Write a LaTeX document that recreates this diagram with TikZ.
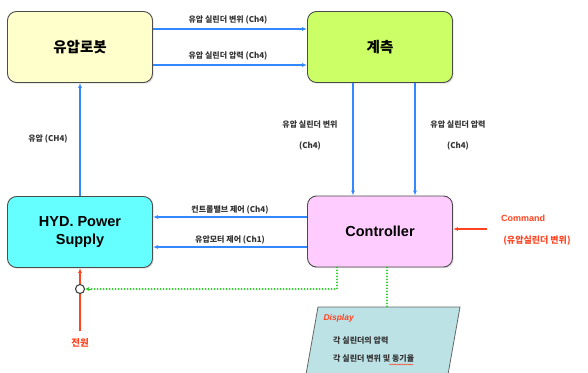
\documentclass[tikz,border=0pt]{standalone}
\usepackage{fontspec}
\setmainfont{Liberation Sans}
\newfontfamily\kr{Noto Sans CJK KR}
\usetikzlibrary{arrows.meta,shadows,decorations.pathmorphing}

\definecolor{linkblue}{HTML}{3388FF}
\definecolor{powerred}{HTML}{FF4422}
\definecolor{sigreen}{HTML}{22CC22}
\definecolor{robotfill}{HTML}{FFFFCC}
\definecolor{measfill}{HTML}{CCFF66}
\definecolor{hydfill}{HTML}{66FFFF}
\definecolor{ctrlfill}{HTML}{FFCCFF}
\definecolor{dispfill}{HTML}{BCE2E6}

\tikzset{
  block/.style={draw=black!70, line width=0.9pt, rounded corners=9pt,
    minimum width=145pt, minimum height=71pt, align=center,
    font=\fontsize{14.5}{17.5}\selectfont\bfseries,
    drop shadow={opacity=0.25, shadow xshift=1.2pt, shadow yshift=-1.2pt}},
  link/.style={draw=linkblue, line width=1.3pt, -{Latex[length=5pt,width=4pt]}},
  lbl/.style={font=\kr\fontsize{8}{9.5}\selectfont\bfseries, text=black!80, inner sep=1pt},
  feed/.style={draw=powerred, line width=1.1pt},
  sig/.style={draw=sigreen, line width=2pt, line cap=round, dash pattern=on 0pt off 3pt},
}

\begin{document}
\begin{tikzpicture}[x=1pt, y=-1pt]
\clip (0,0) rectangle (588,372);
\fill[white] (0,0) rectangle (588,372);

% main blocks
\node[block, fill=robotfill] (robot) at (80,47) {\kr 유압로봇};
\node[block, fill=measfill]  (meas)  at (380,47) {\kr 계측};
\node[block, fill=hydfill]   (hyd)   at (80,232) {HYD. Power\\Supply};
\node[block, fill=ctrlfill]  (ctrl)  at (380,231.5) {Controller};

% robot -> measurement
\draw[link] (robot.east |- 0,29) -- (meas.west |- 0,29);
\draw[link] (robot.east |- 0,65) -- (meas.west |- 0,65);
\node[lbl] (l1) at (228,20) {유압 실린더 변위 (Ch4)};
\node[lbl] (l2) at (228,56) {유압 실린더 압력 (Ch4)};

% measurement -> controller
\draw[link] (meas.south -| 353,0) -- (ctrl.north -| 353,0);
\draw[link] (meas.south -| 415,0) -- (ctrl.north -| 415,0);
\node[lbl] (l3) at (310,125) {유압 실린더 변위};
\node[lbl] (l4) at (310,146) {(Ch4)};
\node[lbl] (l5) at (458,125) {유압 실린더 압력};
\node[lbl] (l6) at (458,146) {(Ch4)};

% controller -> power supply
\draw[link] (ctrl.west |- 0,217) -- (hyd.east |- 0,217);
\draw[link] (ctrl.west |- 0,247) -- (hyd.east |- 0,247);
\node[lbl] (l7) at (230,210) {컨트롤밸브 제어 (Ch4)};
\node[lbl] (l8) at (230,240) {유압모터 제어 (Ch1)};

% power supply -> robot
\draw[link] (hyd.north) -- (robot.south);
\node[lbl] (l9) at (48,139) {유압 (CH4)};

% command input
\coordinate (cmd) at (487,229);
\draw[feed, -{Latex[length=5pt,width=4pt]}] (cmd) -- (ctrl.east |- cmd);
\node[font=\fontsize{9}{11}\selectfont\bfseries, text=powerred] (c1) at (523,218) {Command};
\node[font=\kr\fontsize{9}{11}\selectfont\bfseries, text=powerred] (c2) at (537,241) {(유압실린더 변위)};

% power switch
\node[draw=black!75, line width=1.1pt, fill=white, circle, minimum size=9pt, inner sep=0pt] (sw) at (80,289) {};
\node[font=\kr\fontsize{9.5}{11}\selectfont\bfseries, text=powerred] (pw) at (80,343) {전원};
\coordinate (pwtop) at (80,331);
\draw[feed] (pwtop) -- (sw.south);
\draw[feed, -{Latex[length=5pt,width=4pt]}] (sw.north) -- (hyd.south);

% display panel
\path[fill=dispfill, draw=black!60, line width=0.8pt]
  (318,307) -- (460,307) -- (447,380) -- (305,380) -- cycle;
\node[anchor=west, font=\fontsize{8.5}{10}\selectfont\bfseries\itshape, text=powerred] (dt) at (320,318) {Display};
\node[anchor=west, lbl] (d1) at (332,341) {각 실린더의 압력};
\node[anchor=west, lbl] (d2) at (332,359) {각 실린더 변위 및 동기율};
\draw[powerred, line width=0.5pt, decorate, decoration={snake, amplitude=0.5pt, segment length=2.5pt}]
  (d2.south east) ++(-26,0.5) -- ++(24,0);

% signal lines from the controller
\coordinate (dispin) at (387,307);
\draw[sig] (ctrl.south -| 387,0) -- (dispin);
\draw[sig] (ctrl.south -| 337,0) |- ([xshift=5pt]sw.east);
\draw[draw=sigreen, -{Latex[length=4pt,width=4pt]}, line width=1pt] ([xshift=6pt]sw.east) -- (sw.east);
\end{tikzpicture}
\end{document}
